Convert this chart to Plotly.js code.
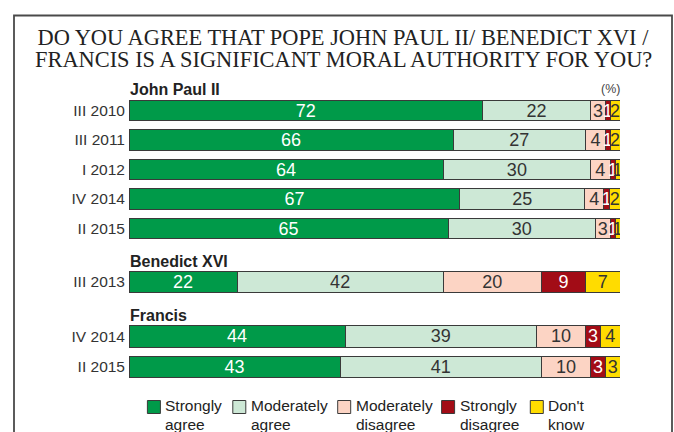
<!DOCTYPE html>
<html>
<head>
<meta charset="utf-8">
<script src="https://cdn.plot.ly/plotly-3.0.1.min.js"></script>
<style>html,body{margin:0;padding:0;background:#fff;}#chart{width:674px;height:432px;}</style>
</head>
<body>
<div id="chart"></div>
<script>
// ---- data ----
const seriesNames = ['Strongly agree', 'Moderately agree', 'Moderately disagree', 'Strongly disagree', "Don't know"];
const popes = ['John Paul II', 'Benedict XVI', 'Francis'];
const rowPope = ['John Paul II', 'John Paul II', 'John Paul II', 'John Paul II', 'John Paul II', 'Benedict XVI', 'Francis', 'Francis'];
const rowPeriod = ['III 2010', 'III 2011', 'I 2012', 'IV 2014', 'II 2015', 'III 2013', 'IV 2014', 'II 2015'];
const stronglyAgree = [72, 66, 64, 67.4, 65, 22, 44, 43];
const moderatelyAgree = [22, 27, 30, 25.4, 30, 42, 39, 41];
const moderatelyDisagree = [3, 4, 4, 3.9, 3, 20, 10, 10];
const stronglyDisagree = [1, 1, 1, 1.2, 1, 9, 3, 3];
const dontKnow = [2, 2, 1, 2.1, 1, 7, 4, 3];
const seriesValues = [stronglyAgree, moderatelyAgree, moderatelyDisagree, stronglyDisagree, dontKnow];
const titleLines = ['DO YOU AGREE THAT POPE JOHN PAUL II/ BENEDICT XVI /', 'FRANCIS IS A SIGNIFICANT MORAL AUTHORITY FOR YOU?'];

// ---- styles / layout ----
const colors = ['#009a49', '#cde8d6', '#fcd4c4', '#a20c16', '#ffdc00'];
const textColors = ['#ffffff', '#333333', '#333333', '#ffffff', '#333333'];
const W = 674, H = 432, L = 129, R = 620;
const px = x => (x - L) / (R - L);
const py = y => 1 - y / H;
// pixel spans (top, bottom) of each group's rows
const groupSpans = [[95.75, 243.25], [267.25, 296.75], [321, 382.4]];
const headerY = [89.3, 261.7, 315.7];
const legendTextX = [165.4, 250.8, 355.7, 459.6, 548.3];
const font = 'Liberation Sans, Arial, sans-serif';
const serif = 'Liberation Serif, Times New Roman, serif';

const traces = [];
popes.forEach((pope, g) => {
  const idx = rowPope.map((p, i) => p === pope ? i : -1).filter(i => i >= 0);
  seriesNames.forEach((name, s) => {
    traces.push({
      type: 'bar',
      orientation: 'h',
      name: name,
      x: idx.map(i => seriesValues[s][i]),
      y: idx.map(i => rowPeriod[i]),
      xaxis: 'x',
      yaxis: g === 0 ? 'y' : 'y' + (g + 1),
      marker: {color: colors[s], line: {color: '#3a3a3a', width: 1}},
      texttemplate: '%{x:.0f}',
      textposition: 'inside',
      insidetextanchor: 'middle',
      textangle: 0,
      constraintext: 'none',
      textfont: {family: font, size: 18, color: textColors[s]},
      hoverinfo: 'skip',
      showlegend: false
    });
  });
});

const layout = {
  width: W, height: H,
  margin: {l: L, r: W - R, t: 0, b: 0},
  paper_bgcolor: '#ffffff', plot_bgcolor: 'rgba(0,0,0,0)',
  barmode: 'stack',
  bargap: 0.3,
  showlegend: false,
  title: {
    text: titleLines[0],
    font: {family: serif, size: 22.4, color: '#222'},
    xref: 'container', x: 343 / W, xanchor: 'center',
    yref: 'container', y: 1 - 37.5 / H, yanchor: 'middle'
  },
  xaxis: {range: [0, 100], visible: false, fixedrange: true},
  annotations: [{
    text: titleLines[1], xref: 'paper', yref: 'paper',
    x: px(343), y: py(59.5), xanchor: 'center', yanchor: 'middle',
    showarrow: false, font: {family: serif, size: 22.4, color: '#222'}
  }],
  shapes: [{
    type: 'rect', xref: 'paper', yref: 'paper',
    x0: px(14), x1: px(672), y0: py(445), y1: py(15.5),
    line: {color: '#4a4a4a', width: 1.8}
  }]
};

popes.forEach((pope, g) => {
  const key = g === 0 ? 'yaxis' : 'yaxis' + (g + 1);
  layout[key] = {
    domain: [py(groupSpans[g][1]), py(groupSpans[g][0])],
    anchor: 'x',
    type: 'category',
    autorange: 'reversed',
    showgrid: false, zeroline: false, showline: false,
    ticks: '',
    ticklabelstandoff: 3,
    tickfont: {family: font, size: 15.5, color: '#333'},
    fixedrange: true
  };
  layout.annotations.push({
    text: '<b>' + pope + '</b>', xref: 'paper', yref: 'paper',
    x: px(128), y: py(headerY[g]), xanchor: 'left', yanchor: 'middle',
    showarrow: false, font: {family: font, size: 16, color: '#222'}
  });
});

layout.annotations.push({
  text: '(%)', xref: 'paper', yref: 'paper', x: px(622), y: py(89), xanchor: 'right', yanchor: 'middle',
  showarrow: false, font: {family: font, size: 12.4, color: '#444'}
});

// legend
seriesNames.forEach((name, s) => {
  const tx = legendTextX[s];
  const sp = name.indexOf(' ');
  const lines = [name.slice(0, sp), name.slice(sp + 1)];
  layout.shapes.push({
    type: 'rect', xref: 'paper', yref: 'paper',
    x0: px(tx - 18), x1: px(tx - 5), y0: py(413.5), y1: py(400.5),
    fillcolor: colors[s], line: {color: '#3a3a3a', width: 1}
  });
  lines.forEach((ln, k) => {
    layout.annotations.push({
      text: ln, xref: 'paper', yref: 'paper',
      x: px(tx - 2), y: py(405.5 + k * 18.6), xanchor: 'left', yanchor: 'middle', align: 'left',
      showarrow: false, font: {family: font, size: 15.5, color: '#222'}
    });
  });
});

Plotly.newPlot('chart', traces, layout, {displayModeBar: false, staticPlot: true});
</script>
</body>
</html>
